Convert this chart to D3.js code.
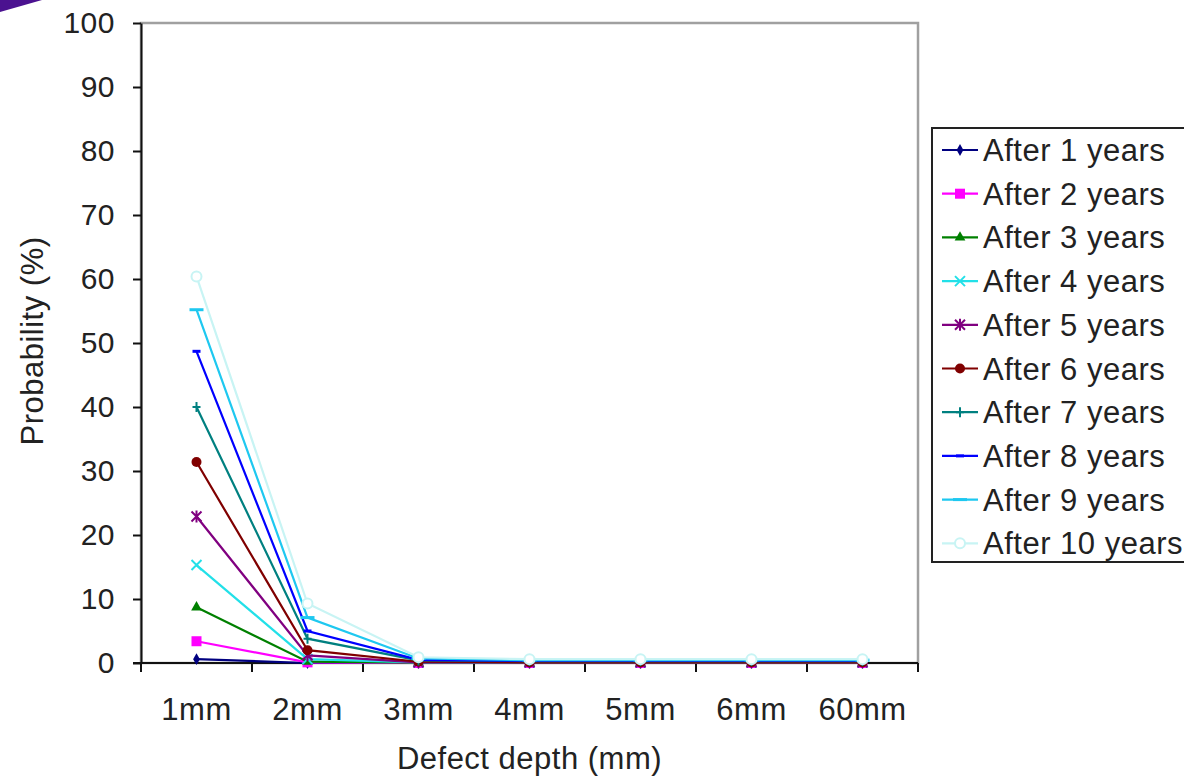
<!DOCTYPE html>
<html>
<head>
<meta charset="utf-8">
<script src="https://cdn.jsdelivr.net/npm/d3@7"></script>
<style>
  body { margin: 0; background: #fff; }
  svg { display: block; font-family: "Liberation Sans", Arial, sans-serif; }
</style>
</head>
<body>
<div id="chart"></div>
<script>
// categories on the x axis
const depths = ['1mm', '2mm', '3mm', '4mm', '5mm', '6mm', '60mm'];
const yTicks = [0, 10, 20, 30, 40, 50, 60, 70, 80, 90, 100];

// series values (probability %)
const after1  = [0.6, 0.0, 0.0, 0.0, 0.0, 0.0, 0.0];
const after2  = [3.4, 0.1, 0.0, 0.0, 0.0, 0.0, 0.0];
const after3  = [8.7, 0.2, 0.05, 0.05, 0.05, 0.05, 0.05];
const after4  = [15.3, 0.6, 0.1, 0.1, 0.1, 0.1, 0.1];
const after5  = [22.9, 1.2, 0.1, 0.1, 0.1, 0.1, 0.1];
const after6  = [31.4, 2.0, 0.2, 0.1, 0.1, 0.1, 0.1];
const after7  = [40.0, 3.8, 0.4, 0.3, 0.3, 0.3, 0.3];
const after8  = [48.7, 5.0, 0.5, 0.35, 0.35, 0.35, 0.35];
const after9  = [55.2, 7.1, 0.7, 0.45, 0.45, 0.45, 0.45];
const after10 = [60.4, 9.3, 0.9, 0.6, 0.6, 0.6, 0.6];

const seriesNames = ['After 1 years', 'After 2 years', 'After 3 years', 'After 4 years', 'After 5 years',
  'After 6 years', 'After 7 years', 'After 8 years', 'After 9 years', 'After 10 years'];
const seriesValues = [after1, after2, after3, after4, after5, after6, after7, after8, after9, after10];
const seriesColors = ['#000080', '#ff00ff', '#008000', '#22e0e8', '#800080',
  '#800000', '#008080', '#0000ff', '#1ec8f0', '#c8f4f4'];
const seriesMarkers = ['diamond', 'square', 'triangle', 'x', 'star', 'circle', 'plus', 'dash', 'longdash', 'ring'];

const width = 1184, height = 778;
const margin = { top: 23, right: 266, bottom: 115, left: 141 };
const fontSize = 31;
const spacing = 0.5;

const svg = d3.select('#chart').append('svg')
  .attr('width', width)
  .attr('height', height);

// purple corner wedge
svg.append('path')
  .attr('d', 'M0,0 L42,0 L0,12 Z')
  .attr('fill', '#4b1290');

const x = d3.scaleBand()
  .domain(depths)
  .range([margin.left, width - margin.right])
  .padding(0);

const y = d3.scaleLinear()
  .domain([0, 100])
  .range([height - margin.bottom, margin.top]);

const cx = d => x(d) + x.bandwidth() / 2;

// plot area frame
svg.append('rect')
  .attr('x', margin.left)
  .attr('y', margin.top)
  .attr('width', width - margin.right - margin.left)
  .attr('height', height - margin.bottom - margin.top)
  .attr('fill', 'none')
  .attr('stroke', '#a0a0a0')
  .attr('stroke-width', 2.5);

// y axis
const yAxis = svg.append('g')
  .attr('transform', `translate(${margin.left},0)`)
  .call(d3.axisLeft(y).tickValues(yTicks).tickSize(8).tickPadding(18).tickSizeOuter(0));
yAxis.select('.domain').attr('stroke', '#111').attr('stroke-width', 2);
yAxis.selectAll('.tick line').attr('stroke', '#111').attr('stroke-width', 2);
yAxis.selectAll('.tick text').attr('font-size', 30).attr('fill', '#222')
  .attr('letter-spacing', spacing)
  .attr('font-family', '"Liberation Sans", Arial, sans-serif');

// x axis: labels centred in bands, ticks on band edges
const xAxis = svg.append('g')
  .attr('transform', `translate(0,${y(0)})`)
  .call(d3.axisBottom(x).tickSize(0).tickPadding(35).tickSizeOuter(0));
xAxis.select('.domain').remove();
xAxis.selectAll('.tick text').attr('font-size', fontSize).attr('fill', '#222')
  .attr('letter-spacing', spacing)
  .attr('font-family', '"Liberation Sans", Arial, sans-serif');

const edges = depths.map(d => x(d)).concat([x(depths[depths.length - 1]) + x.bandwidth()]);
svg.append('line')
  .attr('x1', margin.left - 8).attr('x2', width - margin.right)
  .attr('y1', y(0)).attr('y2', y(0))
  .attr('stroke', '#111').attr('stroke-width', 2);
svg.selectAll('.xtick')
  .data(edges)
  .join('line')
  .attr('class', 'xtick')
  .attr('x1', d => d).attr('x2', d => d)
  .attr('y1', y(0)).attr('y2', y(0) + 9)
  .attr('stroke', '#111').attr('stroke-width', 2);

// axis titles
svg.append('text')
  .attr('x', (margin.left + width - margin.right) / 2)
  .attr('y', 769)
  .attr('text-anchor', 'middle')
  .attr('font-size', fontSize)
  .attr('letter-spacing', spacing)
  .attr('fill', '#222')
  .text('Defect depth (mm)');

svg.append('text')
  .attr('transform', 'translate(43,341) rotate(-90)')
  .attr('text-anchor', 'middle')
  .attr('font-size', fontSize)
  .attr('letter-spacing', spacing)
  .attr('fill', '#222')
  .text('Probability (%)');

// marker drawing
function drawMarker(g, type, color) {
  switch (type) {
    case 'diamond':
      g.append('path').attr('d', d3.symbol(d3.symbolDiamond, 40)()).attr('fill', color);
      break;
    case 'square':
      g.append('rect').attr('x', -5).attr('y', -5).attr('width', 10).attr('height', 10).attr('fill', color);
      break;
    case 'triangle':
      g.append('path').attr('d', d3.symbol(d3.symbolTriangle, 50)()).attr('fill', color);
      break;
    case 'x':
      g.append('path').attr('d', 'M-5,-5L5,5M-5,5L5,-5').attr('stroke', color).attr('stroke-width', 2);
      break;
    case 'star':
      g.append('path').attr('d', 'M-5,-5L5,5M-5,5L5,-5M0,-6L0,6').attr('stroke', color).attr('stroke-width', 2);
      break;
    case 'circle':
      g.append('circle').attr('r', 5).attr('fill', color);
      break;
    case 'plus':
      g.append('path').attr('d', 'M0,-5L0,5M-4,0L4,0').attr('stroke', color).attr('stroke-width', 2);
      break;
    case 'dash':
      g.append('path').attr('d', 'M-4,0L4,0').attr('stroke', color).attr('stroke-width', 3);
      break;
    case 'longdash':
      g.append('path').attr('d', 'M-7,0L7,0').attr('stroke', color).attr('stroke-width', 3);
      break;
    case 'ring':
      g.append('circle').attr('r', 5).attr('fill', '#fff').attr('stroke', color).attr('stroke-width', 2);
      break;
  }
}

// series lines and markers
const line = d3.line()
  .x((d, i) => cx(depths[i]))
  .y(d => y(d));

seriesValues.forEach((vals, s) => {
  const g = svg.append('g').attr('class', 'series');
  g.append('path')
    .datum(vals)
    .attr('d', line)
    .attr('fill', 'none')
    .attr('stroke', seriesColors[s])
    .attr('stroke-width', 2.2);
  vals.forEach((v, i) => {
    const m = g.append('g').attr('transform', `translate(${cx(depths[i])},${y(v)})`);
    drawMarker(m, seriesMarkers[s], seriesColors[s]);
  });
});

// legend
const legend = svg.append('g').attr('transform', 'translate(932,128)');
legend.append('rect')
  .attr('width', 270)
  .attr('height', 434)
  .attr('fill', '#fff')
  .attr('stroke', '#222')
  .attr('stroke-width', 2);

seriesNames.forEach((name, s) => {
  const row = legend.append('g').attr('transform', `translate(0,${22 + s * 43.7})`);
  row.append('line')
    .attr('x1', 10).attr('x2', 46)
    .attr('stroke', seriesColors[s]).attr('stroke-width', 2.2);
  const m = row.append('g').attr('transform', 'translate(28,0)');
  drawMarker(m, seriesMarkers[s], seriesColors[s]);
  row.append('text')
    .attr('x', 51)
    .attr('y', 11)
    .attr('font-size', fontSize)
    .attr('letter-spacing', spacing)
    .attr('fill', '#222')
    .text(name);
});
</script>
</body>
</html>
